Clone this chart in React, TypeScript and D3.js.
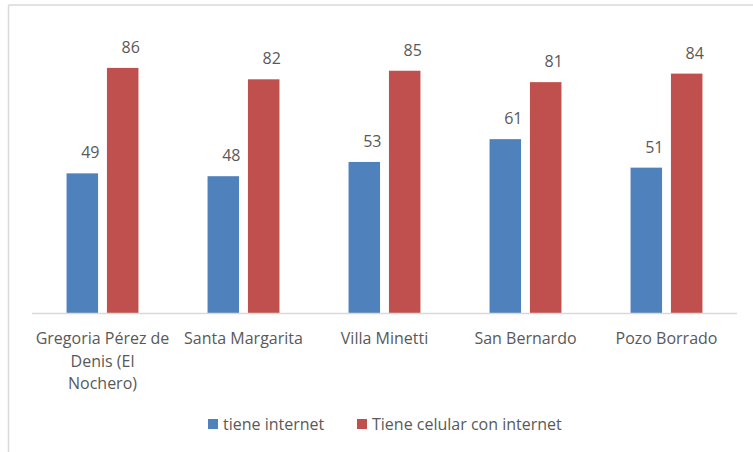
import React from 'react';
import * as d3 from 'd3';

// localities (tick labels, already split into lines as in the original)
const categories = [
  'Gregoria Pérez de Denis (El Nochero)',
  'Santa Margarita',
  'Villa Minetti',
  'San Bernardo',
  'Pozo Borrado',
];
const categoryLines = [
  ['Gregoria Pérez de', 'Denis (El', 'Nochero)'],
  ['Santa Margarita'],
  ['Villa Minetti'],
  ['San Bernardo'],
  ['Pozo Borrado'],
];

const seriesNames = ['tiene internet', 'Tiene celular con internet'];
const tieneInternet = [49, 48, 53, 61, 51];
const celularInternet = [86, 82, 85, 81, 84];

const colors = ['#4f81bd', '#c0504d'];

const W = 753;
const H = 452;
const FONT = '"Open Sans", "Noto Sans", sans-serif';

const App = () => {
  const margin = { left: 32, right: 16, top: 28, baseline: 313 };

  const x0 = d3.scaleBand<string>()
    .domain(categories)
    .range([margin.left, W - margin.right])
    .paddingInner(0.49)
    .paddingOuter(0.245);

  const x1 = d3.scaleBand<string>()
    .domain(seriesNames)
    .range([0, x0.bandwidth()])
    .paddingInner(0.22);

  const y = d3.scaleLinear()
    .domain([0, 100])
    .range([margin.baseline, margin.top]);

  const values = [tieneInternet, celularInternet];

  return (
    <svg
      width={W}
      height={H}
      viewBox={`0 0 ${W} ${H}`}
      style={{ position: 'absolute', left: 0, top: 0, display: 'block', background: '#fff', fontFamily: FONT }}
    >
      {/* chart area border (only top & left visible) */}
      <line x1={8.5} y1={5} x2={W} y2={5} stroke="#d9d9d9" strokeWidth={1.5} />
      <line x1={8.5} y1={5} x2={8.5} y2={H} stroke="#d9d9d9" strokeWidth={1.5} />

      {/* bars */}
      {seriesNames.map((s, si) => (
        <g key={s}>
          {categories.map((c, ci) => {
            const v = values[si][ci];
            const bx = (x0(c) ?? 0) + (x1(s) ?? 0);
            return (
              <rect
                key={c}
                x={bx}
                y={y(v)}
                width={x1.bandwidth()}
                height={y(0) - y(v)}
                fill={colors[si]}
              />
            );
          })}
        </g>
      ))}

      {/* value labels */}
      {seriesNames.map((s, si) => (
        <g key={`lbl-${s}`}>
          {categories.map((c, ci) => {
            const v = values[si][ci];
            const cx = (x0(c) ?? 0) + (x1(s) ?? 0) + x1.bandwidth() / 2 + 8;
            return (
              <text
                key={c}
                x={cx}
                y={y(v) - 15}
                textAnchor="middle"
                fill="#595959"
                style={{ fontSize: '16px' }}
              >
                {v}
              </text>
            );
          })}
        </g>
      ))}

      {/* x axis line */}
      <line
        x1={margin.left}
        x2={W - margin.right}
        y1={y(0) + 0.5}
        y2={y(0) + 0.5}
        stroke="#d9d9d9"
        strokeWidth={1.5}
      />

      {/* category labels */}
      {categories.map((c, ci) => (
        <text
          key={`cat-${c}`}
          x={(x0(c) ?? 0) + x0.bandwidth() / 2}
          y={344}
          textAnchor="middle"
          fill="#595959"
          style={{ fontSize: '16px' }}
        >
          {categoryLines[ci].map((line, li) => (
            <tspan key={li} x={(x0(c) ?? 0) + x0.bandwidth() / 2} dy={li === 0 ? 0 : 22.5}>
              {line}
            </tspan>
          ))}
        </text>
      ))}

      {/* legend */}
      {[208, 357].map((lx, i) => (
        <g key={`leg-${i}`} transform={`translate(${lx}, 419)`}>
          <rect x={0} y={0} width={10} height={10} fill={colors[i]} />
          <text x={15} y={10.5} fill="#595959" style={{ fontSize: '16px' }}>
            {seriesNames[i]}
          </text>
        </g>
      ))}
    </svg>
  );
};

export default App;
